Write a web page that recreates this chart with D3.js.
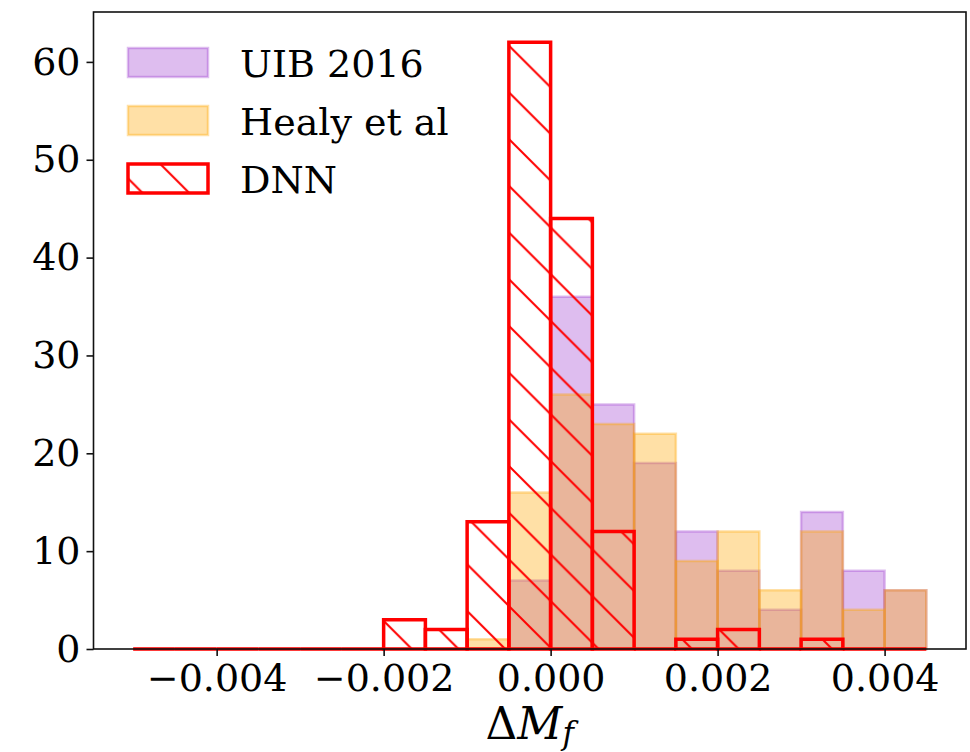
<!DOCTYPE html>
<html>
<head>
<meta charset="utf-8">
<script src="https://cdn.jsdelivr.net/npm/d3@7"></script>
<style>
  html, body { margin: 0; padding: 0; background: #fff; }
  svg { display: block; font-family: 'DejaVu Serif', serif; }
</style>
</head>
<body>
<svg id="chart" width="970" height="752"></svg>
<script>
// histogram bin edges (left edges), width 0.0005
const binStarts = [-0.005, -0.0045, -0.004, -0.0035, -0.003, -0.0025, -0.002, -0.0015, -0.001, -0.0005,
  0, 0.0005, 0.001, 0.0015, 0.002, 0.0025, 0.003, 0.0035, 0.004]
const binWidth = 0.0005
const uibCounts = [0, 0, 0, 0, 0, 0, 0, 0, 0, 7, 36, 25, 19, 12, 8, 4, 14, 8, 6]
const healyCounts = [0, 0, 0, 0, 0, 0, 0, 0, 1, 16, 26, 23, 22, 9, 12, 6, 12, 4, 6]
const dnnCounts = [0, 0, 0, 0, 0, 0, 3, 2, 13, 62, 44, 12, 0, 1, 2, 0, 1, 0, 0]
const xTicks = [-0.004, -0.002, 0, 0.002, 0.004]
const yTicks = [0, 10, 20, 30, 40, 50, 60]
const seriesNames = ['UIB 2016', 'Healy et al', 'DNN']

const svg = d3.select('#chart')
const margin = { top: 12, right: 4, bottom: 103, left: 93.5 }
const W = 970, H = 752

// matplotlib style 5% margins
const x = d3.scaleLinear().domain([-0.005475, 0.004975]).range([margin.left, W - margin.right])
const y = d3.scaleLinear().domain([0, 65.1]).range([H - margin.bottom, margin.top])

// hatch pattern '\\'
const s = 46.7
const defs = svg.append('defs')
const pat = defs.append('pattern')
  .attr('id', 'hatch')
  .attr('patternUnits', 'userSpaceOnUse')
  .attr('x', 43).attr('y', 0)
  .attr('width', s).attr('height', s)
pat.append('path')
  .attr('d', `M0,0 L${s},${s} M${s - 3},-3 L${s + 3},3 M-3,${s - 3} L3,${s + 3}`)
  .attr('stroke', 'red')
  .attr('stroke-width', 2)
  .attr('fill', 'none')

const bins = binStarts.map((b, i) => ({ x0: b, x1: b + binWidth, uib: uibCounts[i], healy: healyCounts[i], dnn: dnnCounts[i] }))

// bars as closed paths so zero-height bins still draw their edge
const barPath = key => d => {
  const p = d3.path()
  p.moveTo(x(d.x0), y(0))
  p.lineTo(x(d.x0), y(d[key]))
  p.lineTo(x(d.x1), y(d[key]))
  p.lineTo(x(d.x1), y(0))
  p.closePath()
  return p.toString()
}

function drawSeries(key, fill, stroke, width) {
  svg.append('g')
    .selectAll('path')
    .data(bins)
    .join('path')
    .attr('d', barPath(key))
    .attr('fill', fill)
    .attr('stroke', stroke)
    .attr('stroke-width', width)
}

drawSeries('uib', 'rgba(153,50,204,0.32)', 'rgba(153,50,204,0.32)', 2.5)
drawSeries('healy', 'rgba(255,165,0,0.35)', 'rgba(255,165,0,0.35)', 2.5)
drawSeries('dnn', 'url(#hatch)', 'red', 3.5)

// frame
svg.append('rect')
  .attr('x', margin.left).attr('y', margin.top)
  .attr('width', W - margin.right - margin.left)
  .attr('height', H - margin.bottom - margin.top)
  .attr('fill', 'none')
  .attr('stroke', '#111')
  .attr('stroke-width', 1.6)

// axes
const fmtX = d => (d < 0 ? '\u2212' : '') + Math.abs(d).toFixed(3)
const xAxis = svg.append('g')
  .attr('transform', 'translate(0,' + (H - margin.bottom) + ')')
  .call(d3.axisBottom(x).tickValues(xTicks).tickFormat(fmtX).tickSize(7).tickPadding(8))
xAxis.select('.domain').remove()
xAxis.selectAll('line').attr('stroke', '#111').attr('stroke-width', 1.6)
xAxis.selectAll('text').attr('font-size', 38).attr('fill', '#000').attr('dy', '0.71em')
  .style('font-family', "'DejaVu Serif', serif")

const yAxis = svg.append('g')
  .attr('transform', 'translate(' + margin.left + ',0)')
  .call(d3.axisLeft(y).tickValues(yTicks).tickSize(7).tickPadding(6))
yAxis.select('.domain').remove()
yAxis.selectAll('line').attr('stroke', '#111').attr('stroke-width', 1.6)
yAxis.selectAll('text').attr('font-size', 38).attr('fill', '#000')
  .style('font-family', "'DejaVu Serif', serif")

// x label: Delta M_f
const xl = svg.append('text')
  .attr('x', (margin.left + W - margin.right) / 2)
  .attr('y', 739)
  .attr('text-anchor', 'middle')
  .attr('font-size', 44)
  .attr('fill', '#000')
xl.append('tspan').text('\u0394')
xl.append('tspan').attr('font-style', 'italic').text('M')
xl.append('tspan').attr('font-style', 'italic').attr('font-size', 31).attr('dy', 5).text('f')

// legend
const legFills = ['rgba(153,50,204,0.32)', 'rgba(255,165,0,0.35)', 'url(#hatch)']
const legStrokes = ['rgba(153,50,204,0.32)', 'rgba(255,165,0,0.35)', 'red']
const legWidths = [2.5, 2.5, 3.5]
const legend = svg.append('g')
seriesNames.forEach((name, i) => {
  const top = 48 + i * 58
  legend.append('rect')
    .attr('x', 128).attr('y', top)
    .attr('width', 80).attr('height', 29)
    .attr('fill', legFills[i])
    .attr('stroke', legStrokes[i])
    .attr('stroke-width', legWidths[i])
  legend.append('text')
    .attr('x', 240).attr('y', top + 29)
    .attr('font-size', 38)
    .attr('fill', '#000')
    .text(name)
})
</script>
</body>
</html>
